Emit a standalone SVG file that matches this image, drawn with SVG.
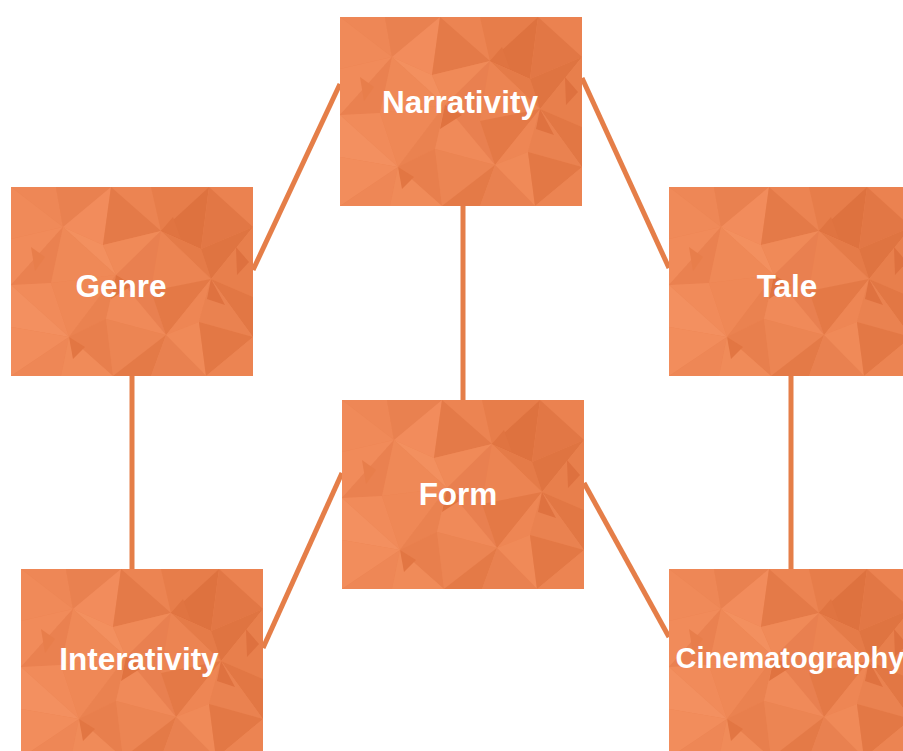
<svg xmlns="http://www.w3.org/2000/svg" xmlns:xlink="http://www.w3.org/1999/xlink" width="903" height="751" viewBox="0 0 903 751">
<style>
.lbl{font-family:"Liberation Sans",Arial,sans-serif;font-weight:bold;font-size:31.5px;fill:#ffffff;text-anchor:middle}
.sm{font-size:29px}
.conn line{stroke:#E57E48;stroke-width:5;stroke-linecap:butt}
</style>
<defs>
<g id="tex">
<rect x="0" y="0" width="242" height="189" fill="#EC8452"/>
<polygon points="0,0 45,0 52,40" fill="#EE8756"/>
<polygon points="0,0 52,40 0,52" fill="#F08A59"/>
<polygon points="45,0 100,0 52,40" fill="#E98150"/>
<polygon points="100,0 92,58 52,40" fill="#F28C5C"/>
<polygon points="100,0 140,0 150,44" fill="#EC8452"/>
<polygon points="100,0 150,44 92,58" fill="#E47A48"/>
<polygon points="140,0 198,0 150,44" fill="#E77D4A"/>
<polygon points="198,0 190,62 150,44" fill="#DE723F"/>
<polygon points="198,0 242,0 242,40" fill="#EB8250"/>
<polygon points="198,0 242,40 190,62" fill="#E27745"/>
<polygon points="0,52 52,40 0,98" fill="#F18B5A"/>
<polygon points="52,40 40,96 0,98" fill="#EA8150"/>
<polygon points="52,40 92,58 105,88" fill="#F3905F"/>
<polygon points="52,40 105,88 40,96" fill="#EF8957"/>
<polygon points="92,58 150,44 105,88" fill="#F08A58"/>
<polygon points="150,44 140,104 105,88" fill="#E98050"/>
<polygon points="150,44 190,62 200,92" fill="#E57B48"/>
<polygon points="150,44 200,92 140,104" fill="#EC8452"/>
<polygon points="190,62 242,40 200,92" fill="#DF7441"/>
<polygon points="242,40 242,110 200,92" fill="#E87F4C"/>
<polygon points="0,98 40,96 58,150" fill="#F18B5A"/>
<polygon points="0,98 58,150 0,140" fill="#F39060"/>
<polygon points="40,96 105,88 58,150" fill="#EF8856"/>
<polygon points="105,88 95,132 58,150" fill="#EA8250"/>
<polygon points="105,88 140,104 155,148" fill="#E98050"/>
<polygon points="105,88 155,148 95,132" fill="#F08A59"/>
<polygon points="140,104 200,92 155,148" fill="#E47946"/>
<polygon points="200,92 188,135 155,148" fill="#EE8654"/>
<polygon points="200,92 242,110 242,150" fill="#E27744"/>
<polygon points="200,92 242,150 188,135" fill="#EA8250"/>
<polygon points="0,140 58,150 0,189" fill="#F28D5C"/>
<polygon points="58,150 50,189 0,189" fill="#EE8756"/>
<polygon points="58,150 95,132 102,189" fill="#E87F4D"/>
<polygon points="58,150 102,189 50,189" fill="#F08B59"/>
<polygon points="95,132 155,148 102,189" fill="#EC8553"/>
<polygon points="155,148 140,189 102,189" fill="#E47A47"/>
<polygon points="155,148 188,135 195,189" fill="#F08A58"/>
<polygon points="155,148 195,189 140,189" fill="#E98150"/>
<polygon points="188,135 242,150 195,189" fill="#E37845"/>
<polygon points="242,150 242,189 195,189" fill="#EC8452"/>
<polygon points="105,88 122,98 100,112" fill="#E07340"/>
<polygon points="150,44 162,30 170,52" fill="#E07441"/>
<polygon points="200,92 214,118 196,112" fill="#DF7240"/>
<polygon points="58,150 74,160 62,172" fill="#E27643"/>
<polygon points="20,60 34,70 24,84" fill="#E87E4B"/>
<polygon points="225,60 238,75 226,88" fill="#DE713F"/>
</g>
</defs>
<g id="connectors" class="conn">
<line x1="340" y1="84" x2="253" y2="270"/>
<line x1="582" y1="78" x2="669" y2="268"/>
<line x1="463" y1="206" x2="463" y2="400"/>
<line x1="132" y1="376" x2="132" y2="569"/>
<line x1="791" y1="376" x2="791" y2="569"/>
<line x1="342" y1="473" x2="263" y2="648"/>
<line x1="584" y1="483" x2="669" y2="637"/>
</g>
<g id="node-narrativity"><use xlink:href="#tex" x="340" y="17"/><text class="lbl" x="460" y="113">Narrativity</text></g>
<g id="node-genre"><use xlink:href="#tex" x="11" y="187"/><text class="lbl" x="121" y="297">Genre</text></g>
<g id="node-tale"><use xlink:href="#tex" x="669" y="187"/><text class="lbl" x="787" y="297">Tale</text></g>
<g id="node-form"><use xlink:href="#tex" x="342" y="400"/><text class="lbl" x="458" y="505">Form</text></g>
<g id="node-interativity"><use xlink:href="#tex" x="21" y="569"/><text class="lbl" x="139" y="670">Interativity</text></g>
<g id="node-cinematography"><use xlink:href="#tex" x="669" y="569"/><text class="lbl sm" x="790" y="668">Cinematography</text></g>
</svg>
